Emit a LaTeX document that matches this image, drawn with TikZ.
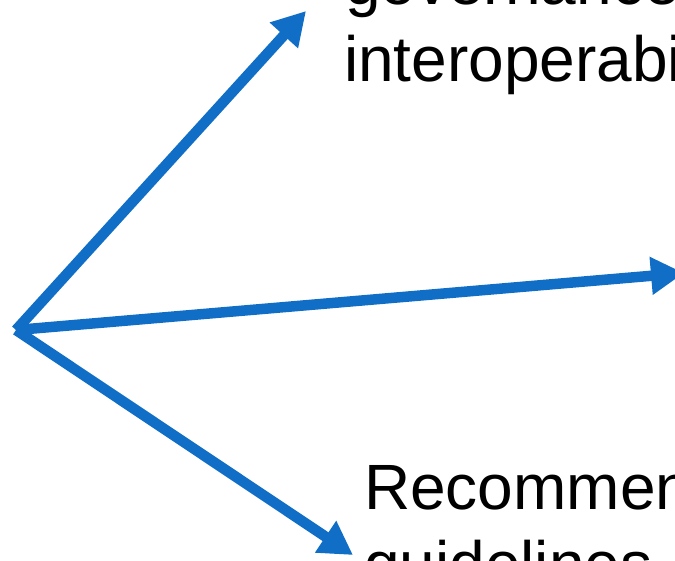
\documentclass[tikz,border=0pt]{standalone}
\usepackage{fontspec}
\setmainfont{Liberation Sans}
\usetikzlibrary{arrows.meta}
\definecolor{arrowblue}{RGB}{16,110,198}

\begin{document}
\begin{tikzpicture}[x=1pt,y=-1pt,
                    flow/.style={draw=arrowblue,line width=10.5pt,-{Triangle[length=33pt,width=36pt]}},
                    label node/.style={anchor=base west,inner sep=0pt,font=\fontsize{64}{77}\selectfont}]
  \useasboundingbox (0,0) rectangle (675,560);
  \clip (0,0) rectangle (675,560);

  % labels, cut by the frame
  \node[label node] (gov) at (345,4) {governance and};
  \node[label node] (inter) at (344,81) {interoperability};
  \node[label node] (recom) at (364,509) {Recommendations};
  \node[label node] (guide) at (364,586) {guidelines};

  % arrows
  \coordinate (hub) at (16,330);
  \coordinate (tip top) at (306,11);
  \coordinate (tip mid) at (684,273);
  \coordinate (tip low) at (353,555);

  \path
    (hub) edge [flow] (tip top)
    (hub) edge [flow] (tip mid)
    (hub) edge [flow] (tip low)
;
\end{tikzpicture}
\end{document}
